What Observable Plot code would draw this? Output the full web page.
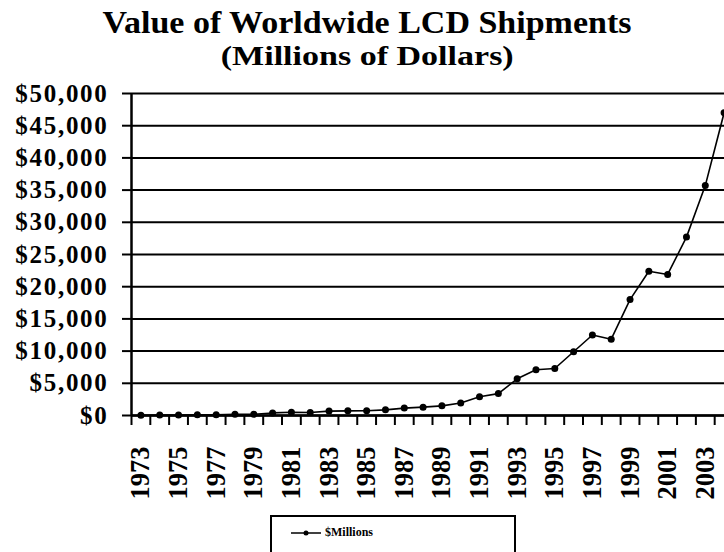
<!DOCTYPE html>
<html><head><meta charset="utf-8">
<script src="https://cdn.jsdelivr.net/npm/d3@7"></script>
<script src="https://cdn.jsdelivr.net/npm/@observablehq/plot@0.6"></script>
<style>
html,body{margin:0;padding:0;background:#fff;}
body{width:724px;height:552px;overflow:hidden;position:relative;font-family:"Liberation Serif","Times New Roman",serif;color:#000;}
#title{position:absolute;left:0;top:9px;width:734px;text-align:center;font-weight:bold;font-size:34px;line-height:28px;white-space:nowrap;}
#title span{display:inline-block;transform:scaleY(0.95);}
#subtitle{position:absolute;left:0;top:45px;width:734px;text-align:center;font-weight:bold;font-size:27px;line-height:22px;white-space:nowrap;}
#subtitle span{display:inline-block;transform:scaleX(1.26);}
#chart{position:absolute;left:0;top:80px;}
#legend{position:absolute;left:270px;top:515px;width:246px;height:60px;border:2px solid #000;box-sizing:border-box;}
#legend .item{position:absolute;left:18px;top:8px;display:flex;align-items:center;font-weight:bold;font-size:12px;}
</style></head><body>
<div id="title"><span>Value of Worldwide LCD Shipments</span></div>
<div id="subtitle"><span>(Millions of Dollars)</span></div>
<div id="chart"></div>
<div id="legend"><div class="item"><svg width="32" height="10"><line x1="1" y1="5" x2="31" y2="5" stroke="#000" stroke-width="1.5"/><circle cx="16" cy="5" r="2.5" fill="#000"/></svg><span style="margin-left:3px">$Millions</span></div></div>
<script>
const years = [1973,1974,1975,1976,1977,1978,1979,1980,1981,1982,1983,1984,1985,1986,1987,1988,
  1989,1990,1991,1992,1993,1994,1995,1996,1997,1998,1999,2000,2001,2002,2003,2004];
const millions = [50,60,80,100,110,200,200,400,500,470,680,720,740,880,1150,1300,
  1500,1940,2900,3400,5700,7100,7300,9900,12500,11850,18000,22400,21900,27700,35700,47000];
const yTicks = [0,5000,10000,15000,20000,25000,30000,35000,40000,45000,50000];
const labelYears = [1973,1975,1977,1979,1981,1983,1985,1987,1989,1991,1993,1995,1997,1999,2001,2003];

const data = years.map((year, i) => ({year, value: millions[i]}));
const boundaries = years.map(y => y - 0.5);

const chart = Plot.plot({
  width: 724,
  height: 430,
  marginLeft: 131,
  marginRight: 0,
  marginTop: 13,
  marginBottom: 95,
  style: {fontFamily: '"Liberation Serif","Times New Roman",serif', color: "#000", background: "#fff", overflow: "hidden"},
  x: {type: "linear", domain: [1972.5, 2004.5], range: [131, 733]},
  y: {domain: [0, 50000]},
  marks: [
    Plot.ruleY(yTicks, {stroke: "#000", strokeWidth: 2}),
    Plot.axisY({ticks: yTicks, tickSize: 9, tickPadding: 14, tickFormat: d3.format("$,"),
      fontSize: 25, fontWeight: "bold", strokeWidth: 2, label: null}),
    Plot.ruleX([1972.5], {y1: 0, y2: 50000, stroke: "#000", strokeWidth: 2.5}),
    Plot.axisX({ticks: boundaries, tickSize: 10, tickFormat: () => "", strokeWidth: 2, label: null}),
    Plot.ruleY([0], {stroke: "#000", strokeWidth: 2.5}),
    Plot.axisX({ticks: labelYears, tickSize: 0, tickPadding: 31, tickRotate: -90,
      tickFormat: d => String(d), fontSize: 26.5, fontWeight: "bold", label: null}),
    Plot.line(data, {x: "year", y: "value", stroke: "#000", strokeWidth: 1.6}),
    Plot.dot(data, {x: "year", y: "value", r: 3.5, fill: "#000"})
  ]
});
document.getElementById("chart").appendChild(chart);
chart.querySelectorAll('[aria-label="y-axis tick label"] text').forEach(t => t.setAttribute("letter-spacing", "1.7"));
</script>
</body></html>
